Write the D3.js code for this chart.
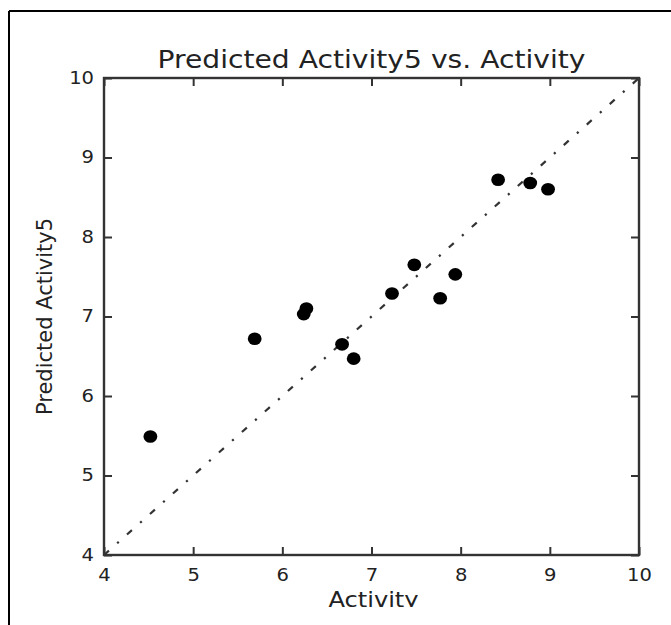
<!DOCTYPE html>
<html>
<head>
<meta charset="utf-8">
<script src="https://cdn.jsdelivr.net/npm/d3@7"></script>
<style>
  html, body { margin: 0; padding: 0; background: #fff; }
  svg { display: block; }
</style>
</head>
<body>
<svg id="chart" width="671" height="625"></svg>
<script>
const activity = [4.52, 5.69, 6.24, 6.27, 6.67, 6.80, 7.23, 7.48, 7.77, 7.94, 8.42, 8.78, 8.98];
const predicted = [5.49, 6.72, 7.03, 7.10, 6.65, 6.47, 7.29, 7.65, 7.23, 7.53, 8.72, 8.68, 8.60];
const xTicks = [4, 5, 6, 7, 8, 9, 10];
const yTicks = [4, 5, 6, 7, 8, 9, 10];
const identity = [4, 10];

(function () {
const svg = d3.select("#chart");
const font = "DejaVu Sans, sans-serif";
const pL = 104, pR = 639, pT = 78, pB = 555;
const sx = 1.15; // the reference image is stretched horizontally

// outer frame (top and left edges visible)
svg.append("line").attr("x1", 9).attr("x2", 671).attr("y1", 11).attr("y2", 11)
  .attr("stroke", "#000").attr("stroke-width", 2);
svg.append("line").attr("x1", 9).attr("x2", 9).attr("y1", 11).attr("y2", 625)
  .attr("stroke", "#000").attr("stroke-width", 2);

const x = d3.scaleLinear().domain([4, 10]).range([pL, pR]);
const y = d3.scaleLinear().domain([4, 10]).range([pB, pT]);

const tickLen = 8;
const axisColor = "#333";

// identity line
svg.append("line")
  .attr("x1", x(identity[0])).attr("y1", y(identity[0]))
  .attr("x2", x(identity[1])).attr("y2", y(identity[1]))
  .attr("stroke", "#333").attr("stroke-width", 2.2)
  .attr("stroke-dasharray", "6.6,11,2.2,11");

// points
svg.append("g").selectAll("ellipse").data(activity).join("ellipse")
  .attr("cx", (d) => x(d))
  .attr("cy", (d, i) => y(predicted[i]))
  .attr("rx", 6.9)
  .attr("ry", 6.3)
  .attr("fill", "#000");

// axes (inside ticks on all four sides)
function styleAxis(g) {
  g.select(".domain").remove();
  g.selectAll(".tick line").attr("stroke", axisColor).attr("stroke-width", 2);
  g.selectAll(".tick text").attr("font-family", font).attr("font-size", 17).attr("fill", "#222");
}
const gBottom = svg.append("g").attr("transform", `translate(0,${pB})`)
  .call(d3.axisBottom(x).tickValues(xTicks).tickFormat(d3.format("d")).tickSizeInner(-tickLen).tickSizeOuter(0).tickPadding(14));
styleAxis(gBottom);
gBottom.selectAll(".tick text").attr("transform", `scale(${sx},1)`);

const gTop = svg.append("g").attr("transform", `translate(0,${pT})`)
  .call(d3.axisTop(x).tickValues(xTicks).tickFormat("").tickSizeInner(-tickLen).tickSizeOuter(0));
styleAxis(gTop);

const gLeft = svg.append("g").attr("transform", `translate(${pL},0)`)
  .call(d3.axisLeft(y).tickValues(yTicks).tickFormat(d3.format("d")).tickSizeInner(-tickLen).tickSizeOuter(0));
styleAxis(gLeft);
gLeft.selectAll(".tick text").attr("x", -10 / sx).attr("transform", `scale(${sx},1)`);

const gRight = svg.append("g").attr("transform", `translate(${pR},0)`)
  .call(d3.axisRight(y).tickValues(yTicks).tickFormat("").tickSizeInner(-tickLen).tickSizeOuter(0));
styleAxis(gRight);

// frame
svg.append("rect").attr("x", pL).attr("y", pT)
  .attr("width", pR - pL).attr("height", pB - pT)
  .attr("fill", "none").attr("stroke", axisColor).attr("stroke-width", 2.4);

// title
svg.append("text").attr("transform", `translate(${(pL + pR) / 2},68) scale(${sx},1)`)
  .attr("text-anchor", "middle").attr("font-family", font).attr("font-size", 24.5)
  .attr("fill", "#222").text("Predicted Activity5 vs. Activity");

// x label (descender clipped as in the reference)
svg.append("clipPath").attr("id", "xlabClip").append("rect")
  .attr("x", 0).attr("y", 560).attr("width", 671).attr("height", 47);
svg.append("g").attr("clip-path", "url(#xlabClip)")
  .append("text").attr("transform", `translate(${(pL + pR) / 2 + 2},607) scale(${sx},1)`)
  .attr("text-anchor", "middle").attr("font-family", font).attr("font-size", 21)
  .attr("fill", "#222").text("Activity");

// y label
svg.append("text").attr("transform", `translate(52,${(pT + pB) / 2}) rotate(-90)`)
  .attr("text-anchor", "middle").attr("font-family", font).attr("font-size", 21)
  .attr("fill", "#222").text("Predicted Activity5");
})();
</script>
</body>
</html>
